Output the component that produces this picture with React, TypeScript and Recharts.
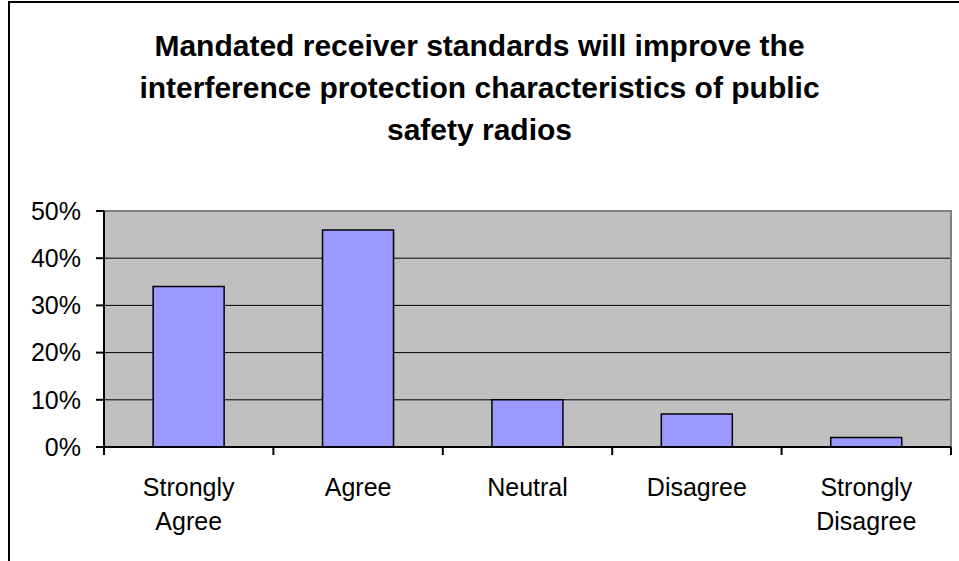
import React from "react";
import { BarChart, Bar, XAxis, YAxis, CartesianGrid, ReferenceArea } from "recharts";

const categories = ["Strongly Agree", "Agree", "Neutral", "Disagree", "Strongly Disagree"];
const responseShares = [0.34, 0.46, 0.1, 0.07, 0.02];
const yTicks = [0, 0.1, 0.2, 0.3, 0.4, 0.5];
const titleLines = [
  "Mandated receiver standards will improve the",
  "interference protection characteristics of public",
  "safety radios",
];

const data = categories.map((c, i) => ({ category: c, share: responseShares[i] }));

const FONT = '"Liberation Sans", Arial, Helvetica, sans-serif';

const CategoryTick = (props: any) => {
  const { x, y, payload, index, width, visibleTicksCount } = props;
  const half =
    payload && typeof payload.offset === "number" && payload.offset > 0
      ? payload.offset
      : width / (visibleTicksCount || categories.length) / 2;
  const words = String(payload.value).split(" ");
  const isLast = index === (visibleTicksCount || categories.length) - 1;
  return (
    <g>
      <line x1={x - half} x2={x - half} y1={y} y2={y + 8} stroke="#000" strokeWidth={2} />
      {isLast && <line x1={x + half} x2={x + half} y1={y} y2={y + 8} stroke="#000" strokeWidth={2} />}
      <text x={x} y={y} textAnchor="middle" fill="#000" fontSize={25} fontFamily={FONT}>
        {words.map((w, i) => (
          <tspan key={i} x={x} dy={i === 0 ? 49 : 33.5}>
            {w}
          </tspan>
        ))}
      </text>
    </g>
  );
};

export default function App() {
  return (
    <div style={{ position: "absolute", left: 0, top: 0, width: 959, height: 561, overflow: "hidden", background: "#fff" }}>
      <div
        style={{
          position: "absolute",
          left: 8,
          top: 1,
          width: 1000,
          height: 600,
          borderLeft: "2px solid #000",
          borderTop: "2px solid #000",
          boxSizing: "border-box",
        }}
      />
      <div
        style={{
          position: "absolute",
          left: 0,
          top: 25,
          width: 959,
          textAlign: "center",
          fontFamily: FONT,
          fontWeight: "bold",
          fontSize: 30,
          lineHeight: "42px",
          color: "#000",
        }}
      >
        {titleLines.map((l, i) => (
          <div key={i}>{l}</div>
        ))}
      </div>
      <div style={{ position: "absolute", left: 0, top: 0 }}>
        <BarChart
          width={959}
          height={561}
          data={data}
          margin={{ top: 211, right: 8, bottom: 0, left: 0 }}
          barCategoryGap="29%"
        >
          <CartesianGrid vertical={false} stroke="#000" strokeWidth={1} fill="#c0c0c0" fillOpacity={1} />
          <ReferenceArea y1={0} y2={0.5} fill="none" stroke="#808080" strokeWidth={2} ifOverflow="visible" />
          <XAxis
            dataKey="category"
            height={114}
            tickLine={false}
            axisLine={{ stroke: "#000", strokeWidth: 2 }}
            tickSize={0}
            tickMargin={0}
            interval={0}
            tick={<CategoryTick />}
          />
          <YAxis
            domain={[0, 0.5]}
            ticks={yTicks}
            interval={0}
            width={104}
            tickSize={8}
            tickMargin={15}
            tickFormatter={(v: number) => `${Math.round(v * 100)}%`}
            axisLine={{ stroke: "#000", strokeWidth: 2 }}
            tickLine={{ stroke: "#000", strokeWidth: 2 }}
            tick={{ fill: "#000", fontSize: 25, fontFamily: FONT }}
          />
          <Bar dataKey="share" fill="#9999ff" stroke="#000" strokeWidth={1.5} isAnimationActive={false} />
        </BarChart>
      </div>
    </div>
  );
}
